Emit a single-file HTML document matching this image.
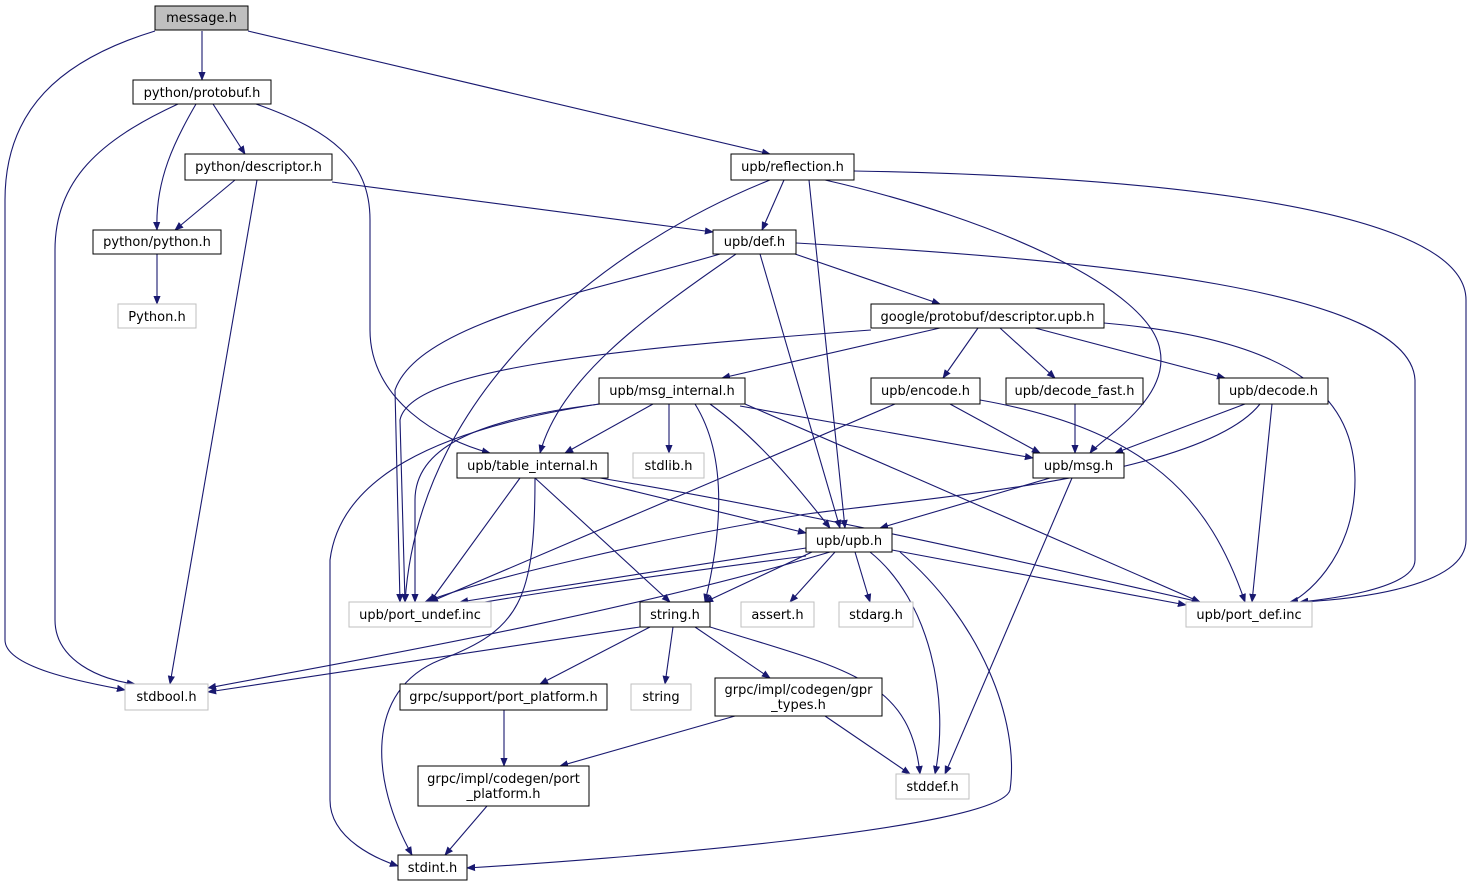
<!DOCTYPE html>
<html><head><meta charset="utf-8"><style>
html,body{margin:0;padding:0;background:#fff;}
svg text{font-family:"DejaVu Sans","Liberation Sans",sans-serif;font-size:13px;fill:#000;}
</style></head><body>
<svg width="1473" height="888" viewBox="0 0 1473 888" xmlns="http://www.w3.org/2000/svg">
<defs><marker id="a" viewBox="0 0 10 10" refX="9" refY="5" markerWidth="9" markerHeight="9" orient="auto" markerUnits="userSpaceOnUse"><path d="M0,1 L10,5 L0,9 z" fill="#191970"/></marker></defs>
<g fill="none" stroke="#191970" stroke-width="1.1" marker-end="url(#a)">
<path d="M155,31 C60,60 5,110 5,200 L5,640 C5,670 100,685 125,690"/>
<path d="M202,31 L202,80"/>
<path d="M248,31 L770,154"/>
<path d="M178,104 C100,140 55,180 55,250 L55,620 C55,660 100,680 135,684"/>
<path d="M196,104 C175,140 155,180 157,230"/>
<path d="M213,104 L245,154"/>
<path d="M256,104 C330,130 370,160 370,220 L370,330 C370,400 440,440 490,453"/>
<path d="M235,180 L175,230"/>
<path d="M257,180 L170,684"/>
<path d="M332,182 L713,232"/>
<path d="M157,254 L157,304"/>
<path d="M784,180 L762,230"/>
<path d="M770,180 C620,240 420,380 405,602"/>
<path d="M809,180 L845,528"/>
<path d="M825,180 C1000,220 1150,290 1160,350 C1170,400 1100,440 1090,453"/>
<path d="M854,171 C1100,175 1466,200 1466,300 L1466,540 C1466,590 1340,600 1300,602"/>
<path d="M795,254 L940,304"/>
<path d="M796,243 C1100,260 1410,290 1415,380 L1415,560 C1415,590 1320,600 1300,602"/>
<path d="M720,254 C600,290 420,320 395,390 L400,602"/>
<path d="M736,254 C640,320 560,380 540,453"/>
<path d="M760,254 L840,528"/>
<path d="M940,328 L722,378"/>
<path d="M978,328 L943,378"/>
<path d="M1000,328 L1055,378"/>
<path d="M1035,328 L1225,378"/>
<path d="M871,330 C600,350 410,370 400,420 L405,602"/>
<path d="M1104,323 C1300,340 1355,400 1355,480 C1355,560 1300,600 1290,602"/>
<path d="M653,404 L565,453"/>
<path d="M669,404 L669,453"/>
<path d="M740,406 L1033,458"/>
<path d="M710,404 C760,440 800,490 830,528"/>
<path d="M745,404 C900,470 1100,560 1200,602"/>
<path d="M695,404 C730,460 720,540 705,602"/>
<path d="M599,404 C430,430 340,480 330,560 L330,800 C330,840 380,860 398,866"/>
<path d="M600,404 C470,420 415,450 415,500 L415,602"/>
<path d="M950,404 L1040,453"/>
<path d="M980,400 C1150,430 1210,500 1245,602"/>
<path d="M895,404 L430,602"/>
<path d="M1075,404 L1075,453"/>
<path d="M1245,404 L1115,453"/>
<path d="M1272,404 L1252,602"/>
<path d="M1260,404 C1200,480 900,500 800,515 C650,540 480,580 425,602"/>
<path d="M1050,478 L880,528"/>
<path d="M1072,478 L945,774"/>
<path d="M580,478 L806,533"/>
<path d="M600,478 C850,520 1100,580 1200,602"/>
<path d="M520,478 L430,602"/>
<path d="M535,478 L670,602"/>
<path d="M535,478 C535,600 520,630 440,660 C365,690 370,780 412,855"/>
<path d="M806,548 L460,602"/>
<path d="M806,556 C620,580 490,600 430,612"/>
<path d="M812,552 L705,602"/>
<path d="M835,552 L790,602"/>
<path d="M855,552 L870,602"/>
<path d="M892,550 L1186,605"/>
<path d="M870,552 C930,600 950,700 935,774"/>
<path d="M900,552 C980,620 1020,720 1010,790 C1000,830 600,860 467,868"/>
<path d="M830,552 C600,620 300,670 208,688"/>
<path d="M640,627 L208,692"/>
<path d="M650,627 L540,684"/>
<path d="M673,627 L665,684"/>
<path d="M695,627 L770,678"/>
<path d="M710,627 C850,670 910,680 920,774"/>
<path d="M825,716 L910,774"/>
<path d="M735,716 L560,766"/>
<path d="M504,710 L504,766"/>
<path d="M487,806 L445,855"/>
</g>
<g stroke-width="1">
<rect x="155" y="6" width="93" height="24" fill="#bfbfbf" stroke="#000"/><text x="201.5" y="22" text-anchor="middle">message.h</text>
<rect x="133" y="80" width="138" height="24" fill="#fff" stroke="#000"/><text x="202" y="97" text-anchor="middle">python/protobuf.h</text>
<rect x="185" y="154" width="147" height="26" fill="#fff" stroke="#000"/><text x="258.5" y="171" text-anchor="middle">python/descriptor.h</text>
<rect x="731" y="154" width="123" height="26" fill="#fff" stroke="#000"/><text x="792.5" y="171" text-anchor="middle">upb/reflection.h</text>
<rect x="93" y="230" width="128" height="24" fill="#fff" stroke="#000"/><text x="157" y="246" text-anchor="middle">python/python.h</text>
<rect x="713" y="230" width="83" height="24" fill="#fff" stroke="#000"/><text x="754.5" y="246" text-anchor="middle">upb/def.h</text>
<rect x="118" y="304" width="78" height="24" fill="#fff" stroke="#bfbfbf"/><text x="157" y="321" text-anchor="middle">Python.h</text>
<rect x="871" y="304" width="233" height="24" fill="#fff" stroke="#000"/><text x="987.5" y="321" text-anchor="middle">google/protobuf/descriptor.upb.h</text>
<rect x="599" y="378" width="146" height="26" fill="#fff" stroke="#000"/><text x="672" y="395" text-anchor="middle">upb/msg_internal.h</text>
<rect x="871" y="378" width="109" height="26" fill="#fff" stroke="#000"/><text x="925.5" y="395" text-anchor="middle">upb/encode.h</text>
<rect x="1006" y="378" width="137" height="26" fill="#fff" stroke="#000"/><text x="1074.5" y="395" text-anchor="middle">upb/decode_fast.h</text>
<rect x="1219" y="378" width="109" height="26" fill="#fff" stroke="#000"/><text x="1273.5" y="395" text-anchor="middle">upb/decode.h</text>
<rect x="457" y="453" width="151" height="25" fill="#fff" stroke="#000"/><text x="532.5" y="470" text-anchor="middle">upb/table_internal.h</text>
<rect x="633" y="453" width="71" height="25" fill="#fff" stroke="#bfbfbf"/><text x="668.5" y="470" text-anchor="middle">stdlib.h</text>
<rect x="1033" y="453" width="91" height="25" fill="#fff" stroke="#000"/><text x="1078.5" y="470" text-anchor="middle">upb/msg.h</text>
<rect x="806" y="528" width="86" height="24" fill="#fff" stroke="#000"/><text x="849" y="545" text-anchor="middle">upb/upb.h</text>
<rect x="349" y="602" width="142" height="25" fill="#fff" stroke="#bfbfbf"/><text x="420" y="619" text-anchor="middle">upb/port_undef.inc</text>
<rect x="640" y="602" width="70" height="25" fill="#fff" stroke="#000"/><text x="675" y="619" text-anchor="middle">string.h</text>
<rect x="741" y="602" width="73" height="25" fill="#fff" stroke="#bfbfbf"/><text x="777.5" y="619" text-anchor="middle">assert.h</text>
<rect x="839" y="602" width="74" height="25" fill="#fff" stroke="#bfbfbf"/><text x="876" y="619" text-anchor="middle">stdarg.h</text>
<rect x="1186" y="602" width="126" height="25" fill="#fff" stroke="#bfbfbf"/><text x="1249" y="619" text-anchor="middle">upb/port_def.inc</text>
<rect x="125" y="684" width="83" height="26" fill="#fff" stroke="#bfbfbf"/><text x="166.5" y="701" text-anchor="middle">stdbool.h</text>
<rect x="400" y="684" width="207" height="26" fill="#fff" stroke="#000"/><text x="503.5" y="701" text-anchor="middle">grpc/support/port_platform.h</text>
<rect x="631" y="684" width="60" height="26" fill="#fff" stroke="#bfbfbf"/><text x="661" y="701" text-anchor="middle">string</text>
<rect x="715" y="678" width="167" height="38" fill="#fff" stroke="#000"/><text x="798.5" y="694" text-anchor="middle">grpc/impl/codegen/gpr</text><text x="798.5" y="709" text-anchor="middle">_types.h</text>
<rect x="418" y="766" width="171" height="40" fill="#fff" stroke="#000"/><text x="503.5" y="783" text-anchor="middle">grpc/impl/codegen/port</text><text x="503.5" y="798" text-anchor="middle">_platform.h</text>
<rect x="896" y="774" width="73" height="25" fill="#fff" stroke="#bfbfbf"/><text x="932.5" y="791" text-anchor="middle">stddef.h</text>
<rect x="398" y="855" width="69" height="25" fill="#fff" stroke="#000"/><text x="432.5" y="872" text-anchor="middle">stdint.h</text>
</g>
</svg>
</body></html>
